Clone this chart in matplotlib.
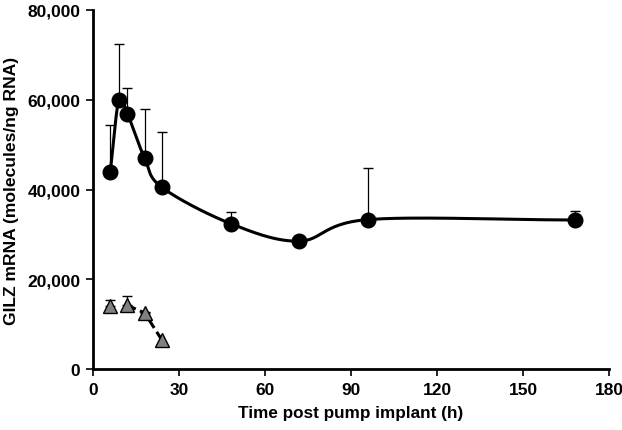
import numpy as np
import matplotlib
matplotlib.use("Agg")
import matplotlib.pyplot as plt
from matplotlib.ticker import FuncFormatter

# Data
time_circ = [6, 9, 12, 18, 24, 48, 72, 96, 168]
gilz_circ = [43800, 59900, 56900, 47000, 40500, 32400, 28500, 33300, 33200]
err_circ = [10500, 12600, 5800, 11000, 12300, 2600, 300, 11400, 2100]

time_tri = [6, 12, 18, 24]
gilz_tri = [14000, 14200, 12500, 6500]
err_tri = [1300, 2100, 300, 0]

xticks = [0, 30, 60, 90, 120, 150, 180]
yticks = [0, 20000, 40000, 60000, 80000]


def catmull_rom(x, y, n=30):
    x = np.asarray(x, float)
    y = np.asarray(y, float)
    px = np.concatenate([[2 * x[0] - x[1]], x, [2 * x[-1] - x[-2]]])
    py = np.concatenate([[2 * y[0] - y[1]], y, [2 * y[-1] - y[-2]]])
    xs, ys = [], []
    t = np.linspace(0, 1, n)
    for i in range(1, len(px) - 2):
        for arr, out in ((px, xs), (py, ys)):
            p0, p1, p2, p3 = arr[i - 1], arr[i], arr[i + 1], arr[i + 2]
            seg = 0.5 * ((2 * p1) + (-p0 + p2) * t +
                         (2 * p0 - 5 * p1 + 4 * p2 - p3) * t ** 2 +
                         (-p0 + 3 * p1 - 3 * p2 + p3) * t ** 3)
            out.extend(seg)
    return np.array(xs), np.array(ys)


plt.rcParams['font.family'] = ['Liberation Sans', 'DejaVu Sans']
fig = plt.figure(figsize=(6.22, 4.31), dpi=100)
ax = fig.add_axes([0.1495, 0.1415, 0.8296, 0.833])


def upper_errors(x, y, e):
    xs = [a for a, d in zip(x, e) if d > 0]
    ys = [b for b, d in zip(y, e) if d > 0]
    es = [d for d in e if d > 0]
    ax.errorbar(xs, ys, yerr=[np.zeros(len(es)), es], fmt='none', ecolor='black',
                elinewidth=0.9, capsize=3.8, capthick=1.0, zorder=2)


upper_errors(time_circ, gilz_circ, err_circ)
upper_errors(time_tri, gilz_tri, err_tri)

# Smooth line for circles (scaled to pixel-like units before smoothing)
sx, sy = catmull_rom(np.array(time_circ) * 2.87, np.array(gilz_circ) / 1000 * 4.49)
ax.plot(sx / 2.87, sy / 4.49 * 1000, color='black', lw=2.2, zorder=3)
ax.plot(time_circ, gilz_circ, 'o', color='black', ms=10.5, zorder=4)

# dashed connection among the later triangle points
ax.plot(time_tri[1:], gilz_tri[1:], color='black', lw=2.2, ls=(0, (3, 1.5)), zorder=3)
ax.plot(time_tri, gilz_tri, '^', color='#808080', mec='black', mew=1.0, ms=10.5, zorder=4)

ax.set_xlim(0, 180)
ax.set_ylim(0, 80000)
ax.set_xticks(xticks)
ax.set_yticks(yticks)
ax.yaxis.set_major_formatter(FuncFormatter(lambda v, p: f"{int(v):,}"))

for s in ['top', 'right']:
    ax.spines[s].set_visible(False)
for s in ['left', 'bottom']:
    ax.spines[s].set_linewidth(2)
ax.tick_params(direction='out', length=5, width=1.2, labelsize=12.5, pad=4)
for lab in ax.get_xticklabels() + ax.get_yticklabels():
    lab.set_fontweight('bold')

ax.set_xlabel('Time post pump implant (h)', fontsize=12.3, fontweight='bold', labelpad=6)
ax.set_ylabel('GILZ mRNA (molecules/ng RNA)', fontsize=12.6, fontweight='bold', labelpad=6)

fig.savefig('out.png', dpi=100)
